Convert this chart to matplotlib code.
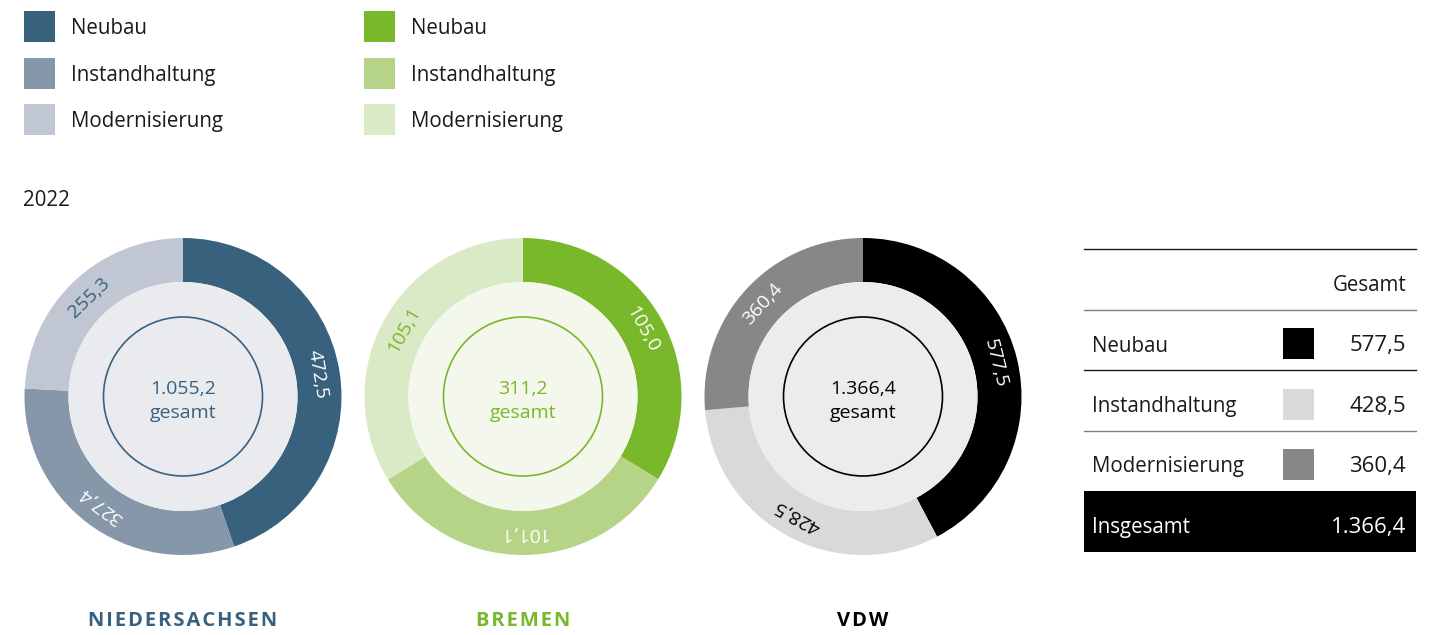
import math
import matplotlib
matplotlib.use("Agg")
import matplotlib.pyplot as plt
from matplotlib.patches import Circle, Rectangle

# ---------------- data ----------------
categories = ["Neubau", "Instandhaltung", "Modernisierung"]
regions = ["NIEDERSACHSEN", "BREMEN", "VDW"]
niedersachsen = [472.5, 327.4, 255.3]
bremen = [105.0, 101.1, 105.1]
vdw = [577.5, 428.5, 360.4]
year_label = "2022"
center_word = "gesamt"
table_header = "Gesamt"
table_total_label = "Insgesamt"

# ---------------- styling ----------------
W, H = 1442, 635
FONT = ["Open Sans", "DejaVu Sans"]
plt.rcParams["font.family"] = FONT

blue_cols = ["#38617e", "#8597a9", "#c0c7d3"]
green_cols = ["#78b82a", "#b6d487", "#dbeac6"]
grey_cols = ["#000000", "#d9d9d9", "#878787"]
styles = [
    dict(vals=niedersachsen, cols=blue_cols, inner="#e9ebef", main="#38617e",
         lab=["white", "white", "#38617e"], cx=183),
    dict(vals=bremen, cols=green_cols, inner="#f3f7ec", main="#78b82a",
         lab=["white", "white", "#78b82a"], cx=523),
    dict(vals=vdw, cols=grey_cols, inner="#ececec", main="#000000",
         lab=["white", "black", "white"], cx=863),
]
TXT = "#1a1a1a"
FS = 14.8
DY = 2.5  # baseline correction for Open Sans


def de(v):
    s = f"{v:,.1f}"
    return s.replace(",", "X").replace(".", ",").replace("X", ".")


def Y(y):
    return H - y


fig = plt.figure(figsize=(W / 100, H / 100), dpi=100)
ax = fig.add_axes([0, 0, 1, 1])

CY = 396.5
R_OUT, R_IN, R_LINE = 158.5, 114.5, 79.5

for st in styles:
    vals = st["vals"]
    total = sum(vals)
    cx, cy = st["cx"], Y(CY)
    ax.pie(vals, colors=st["cols"], startangle=90, counterclock=False,
           radius=R_OUT, center=(cx, cy), frame=True,
           wedgeprops=dict(width=R_OUT - R_IN, linewidth=0))
    ax.add_patch(Circle((cx, cy), R_IN, fc=st["inner"], ec="none", zorder=3))
    ax.add_patch(Circle((cx, cy), R_LINE, fc="none", ec=st["main"], lw=1.2, zorder=4))
    ax.text(cx, cy + 8, de(total), ha="center", va="center", fontsize=14,
            color=st["main"], zorder=5)
    ax.text(cx, cy - 17, center_word, ha="center", va="center", fontsize=14,
            color=st["main"], zorder=5)
    cum = 0.0
    for v, lc in zip(vals, st["lab"]):
        mid = 90 - 360 * (cum + v / 2) / total
        cum += v
        rm = (R_OUT + R_IN) / 2
        x = cx + rm * math.cos(math.radians(mid))
        y = cy + rm * math.sin(math.radians(mid))
        ax.text(x, y, de(v), ha="center", va="center", rotation=(mid - 90) % 360,
                rotation_mode="anchor", fontsize=14, color=lc, zorder=5)

# bottom region labels (letter spaced)
for st, name in zip(styles, regions):
    spaced = "\u200a".join(name)
    ax.text(st["cx"], Y(619 + DY), spaced, ha="center", va="center", fontsize=14.5,
            fontweight="bold", color=st["main"],
            family=["Open Sans", "DejaVu Sans"])

# legends
for col_x, cols in [(24, blue_cols), (364, green_cols)]:
    for i, (cat, c) in enumerate(zip(categories, cols)):
        yc = 26.5 + i * 46.5
        ax.add_patch(Rectangle((col_x, Y(yc + 15.5)), 31, 31, fc=c, ec="none"))
        ax.text(col_x + 47, Y(yc + DY), cat, ha="left", va="center", fontsize=FS,
                color=TXT)

ax.text(23, Y(198 + DY), year_label, ha="left", va="center", fontsize=FS, color=TXT)

# table
TX0, TX1 = 1084, 1416
ax.plot([TX0, TX1], [Y(249), Y(249)], color=TXT, lw=1.0)
ax.text(1406, Y(283 + DY), table_header, ha="right", va="center", fontsize=FS, color=TXT)
ax.plot([TX0, TX1], [Y(310), Y(310)], color="#808080", lw=1.0)
row_y = [343.5, 404, 464]
line_y = [370, 431]
line_c = [TXT, "#808080"]
for i, (cat, v, c) in enumerate(zip(categories, vdw, grey_cols)):
    yc = row_y[i]
    ax.text(1092, Y(yc + DY), cat, ha="left", va="center", fontsize=FS, color=TXT)
    ax.add_patch(Rectangle((1283, Y(yc + 15.5)), 31, 31, fc=c, ec="none"))
    ax.text(1406, Y(yc + DY), de(v), ha="right", va="center", fontsize=16, color=TXT)
    if i < 2:
        ax.plot([TX0, TX1], [Y(line_y[i]), Y(line_y[i])], color=line_c[i], lw=1.0)
ax.add_patch(Rectangle((TX0, Y(552)), TX1 - TX0, 61, fc="black", ec="none"))
ax.text(1092, Y(525 + DY), table_total_label, ha="left", va="center", fontsize=FS, color="white")
ax.text(1406, Y(525 + DY), de(sum(vdw)), ha="right", va="center", fontsize=16, color="white")

ax.set_xlim(0, W)
ax.set_ylim(0, H)
ax.set_aspect("equal")
ax.axis("off")
fig.savefig("out.png", dpi=100, facecolor="white")
